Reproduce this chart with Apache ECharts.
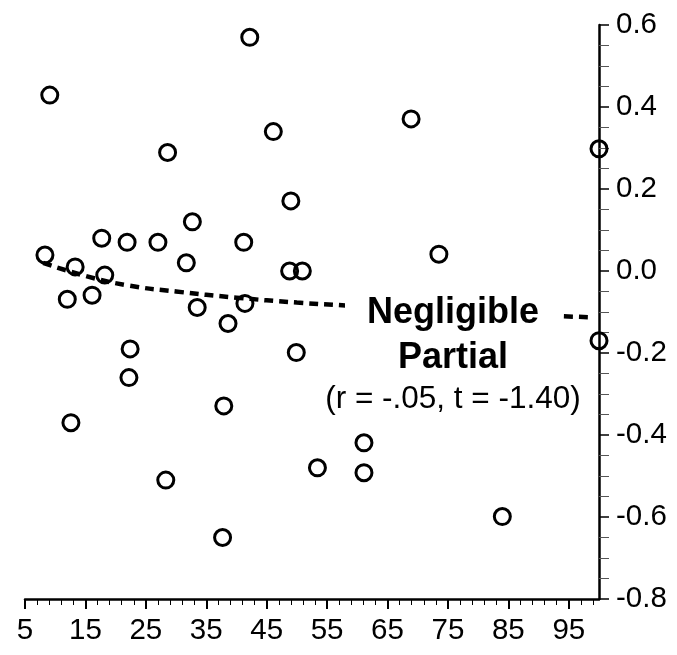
<!DOCTYPE html>
<html>
<head>
<meta charset="utf-8">
<script src="https://cdn.jsdelivr.net/npm/echarts@6/dist/echarts.min.js"></script>
<style>
html,body{margin:0;padding:0;background:#fff;}
#chart{width:677px;height:655px;}
</style>
</head>
<body>
<div id="chart"></div>
<script>
// Scatter points (x, y)
var pointX = [42.2, 9.1, 46.1, 28.6, 49.0, 32.7, 17.7, 21.9, 27.0, 41.2,
              8.3, 31.7, 13.3, 48.8, 50.9, 18.2, 12.0, 16.1, 33.5, 41.4,
              38.6, 22.4, 49.9, 22.2, 37.9, 12.6, 53.4, 28.3, 37.7, 61.1,
              61.1, 84.0, 68.9, 73.5, 100, 100];
var pointY = [0.570, 0.429, 0.340, 0.289, 0.171, 0.120, 0.080, 0.070, 0.070, 0.070,
              0.039, 0.020, 0.010, 0.000, 0.000, -0.010, -0.069, -0.059, -0.089, -0.079,
              -0.128, -0.190, -0.199, -0.260, -0.329, -0.370, -0.480, -0.510, -0.650, -0.419,
              -0.492, -0.599, 0.371, 0.041, 0.298, -0.170];

// Fitted (dashed) curve
var lineX = [8, 15, 22, 30, 40, 50, 58, 70, 80, 90, 99];
var lineY = [0.020, -0.012, -0.035, -0.050, -0.065, -0.077, -0.084, -0.094, -0.101, -0.108, -0.113];

// Axis ticks
var xTicks = [5, 15, 25, 35, 45, 55, 65, 75, 85, 95];
var yTicks = [-0.8, -0.6, -0.4, -0.2, 0.0, 0.2, 0.4, 0.6];

// Annotation text
var noteTitle1 = 'Negligible';
var noteTitle2 = 'Partial';
var noteStats = '(r = -.05, t = -1.40)';

var xMinor = [];
xTicks.forEach(function (t) { [2, 4, 6, 8].forEach(function (d) { if (t + d < 100) xMinor.push(t + d); }); });

var scatterData = pointX.map(function (x, i) { return [x, pointY[i]]; });
var lineData = lineX.map(function (x, i) { return [x, lineY[i]]; });

var FONT = '"Liberation Sans", Arial, Helvetica, sans-serif';

var chart = echarts.init(document.getElementById('chart'), null, {renderer: 'canvas'});
chart.setOption({
  backgroundColor: '#ffffff',
  animation: false,
  grid: {left: 25, right: 78, top: 25, bottom: 56, containLabel: false},
  xAxis: [{
    type: 'value', min: 5, max: 100, position: 'bottom',
    axisLine: {show: true, onZero: false, lineStyle: {color: '#000', width: 2.5}},
    axisTick: {show: true, inside: false, length: 10, customValues: xTicks, lineStyle: {color: '#000', width: 2}},
    axisLabel: {show: true, customValues: xTicks, margin: 17, color: '#000', fontSize: 29.5, fontFamily: FONT},
    splitLine: {show: false}
  }, {
    type: 'value', min: 5, max: 100, gridIndex: 0, position: 'bottom',
    axisLine: {show: false, onZero: false},
    axisTick: {show: true, inside: false, length: 6, customValues: xMinor, lineStyle: {color: '#000', width: 1}},
    axisLabel: {show: false},
    splitLine: {show: false}
  }],
  yAxis: {
    type: 'value', position: 'right', min: -0.8, max: 0.6, interval: 0.2,
    axisLine: {show: true, onZero: false, lineStyle: {color: '#000', width: 2.5}},
    axisTick: {show: true, inside: false, length: 10, lineStyle: {color: '#000', width: 1.5}},
    minorTick: {show: true, splitNumber: 4, length: 10, lineStyle: {color: '#555', width: 1}},
    axisLabel: {margin: 17, color: '#000', fontSize: 29.5, fontFamily: FONT,
      formatter: function (v) { return v.toFixed(1); }},
    splitLine: {show: false},
    minorSplitLine: {show: false}
  },
  series: [{
    type: 'line', data: lineData, showSymbol: false, smooth: true, z: 1,
    lineStyle: {color: '#000', width: 4.5, type: [9, 6], cap: 'butt'}
  }, {
    type: 'scatter', data: scatterData, symbol: 'circle', symbolSize: 16, z: 2,
    itemStyle: {color: 'rgba(0,0,0,0)', borderColor: '#000', borderWidth: 3, opacity: 1}
  }],
  graphic: [{
    type: 'text', x: 453, y: 313, z: 10,
    style: {text: noteTitle1, font: 'bold 36px ' + FONT, fill: '#000', align: 'center', verticalAlign: 'middle',
      backgroundColor: '#fff', padding: [2, 22]}
  }, {
    type: 'text', x: 453, y: 358, z: 10,
    style: {text: noteTitle2, font: 'bold 36px ' + FONT, fill: '#000', align: 'center', verticalAlign: 'middle'}
  }, {
    type: 'text', x: 453, y: 399, z: 10,
    style: {text: noteStats, font: '31.5px ' + FONT, fill: '#000', align: 'center', verticalAlign: 'middle'}
  }]
});
</script>
</body>
</html>
